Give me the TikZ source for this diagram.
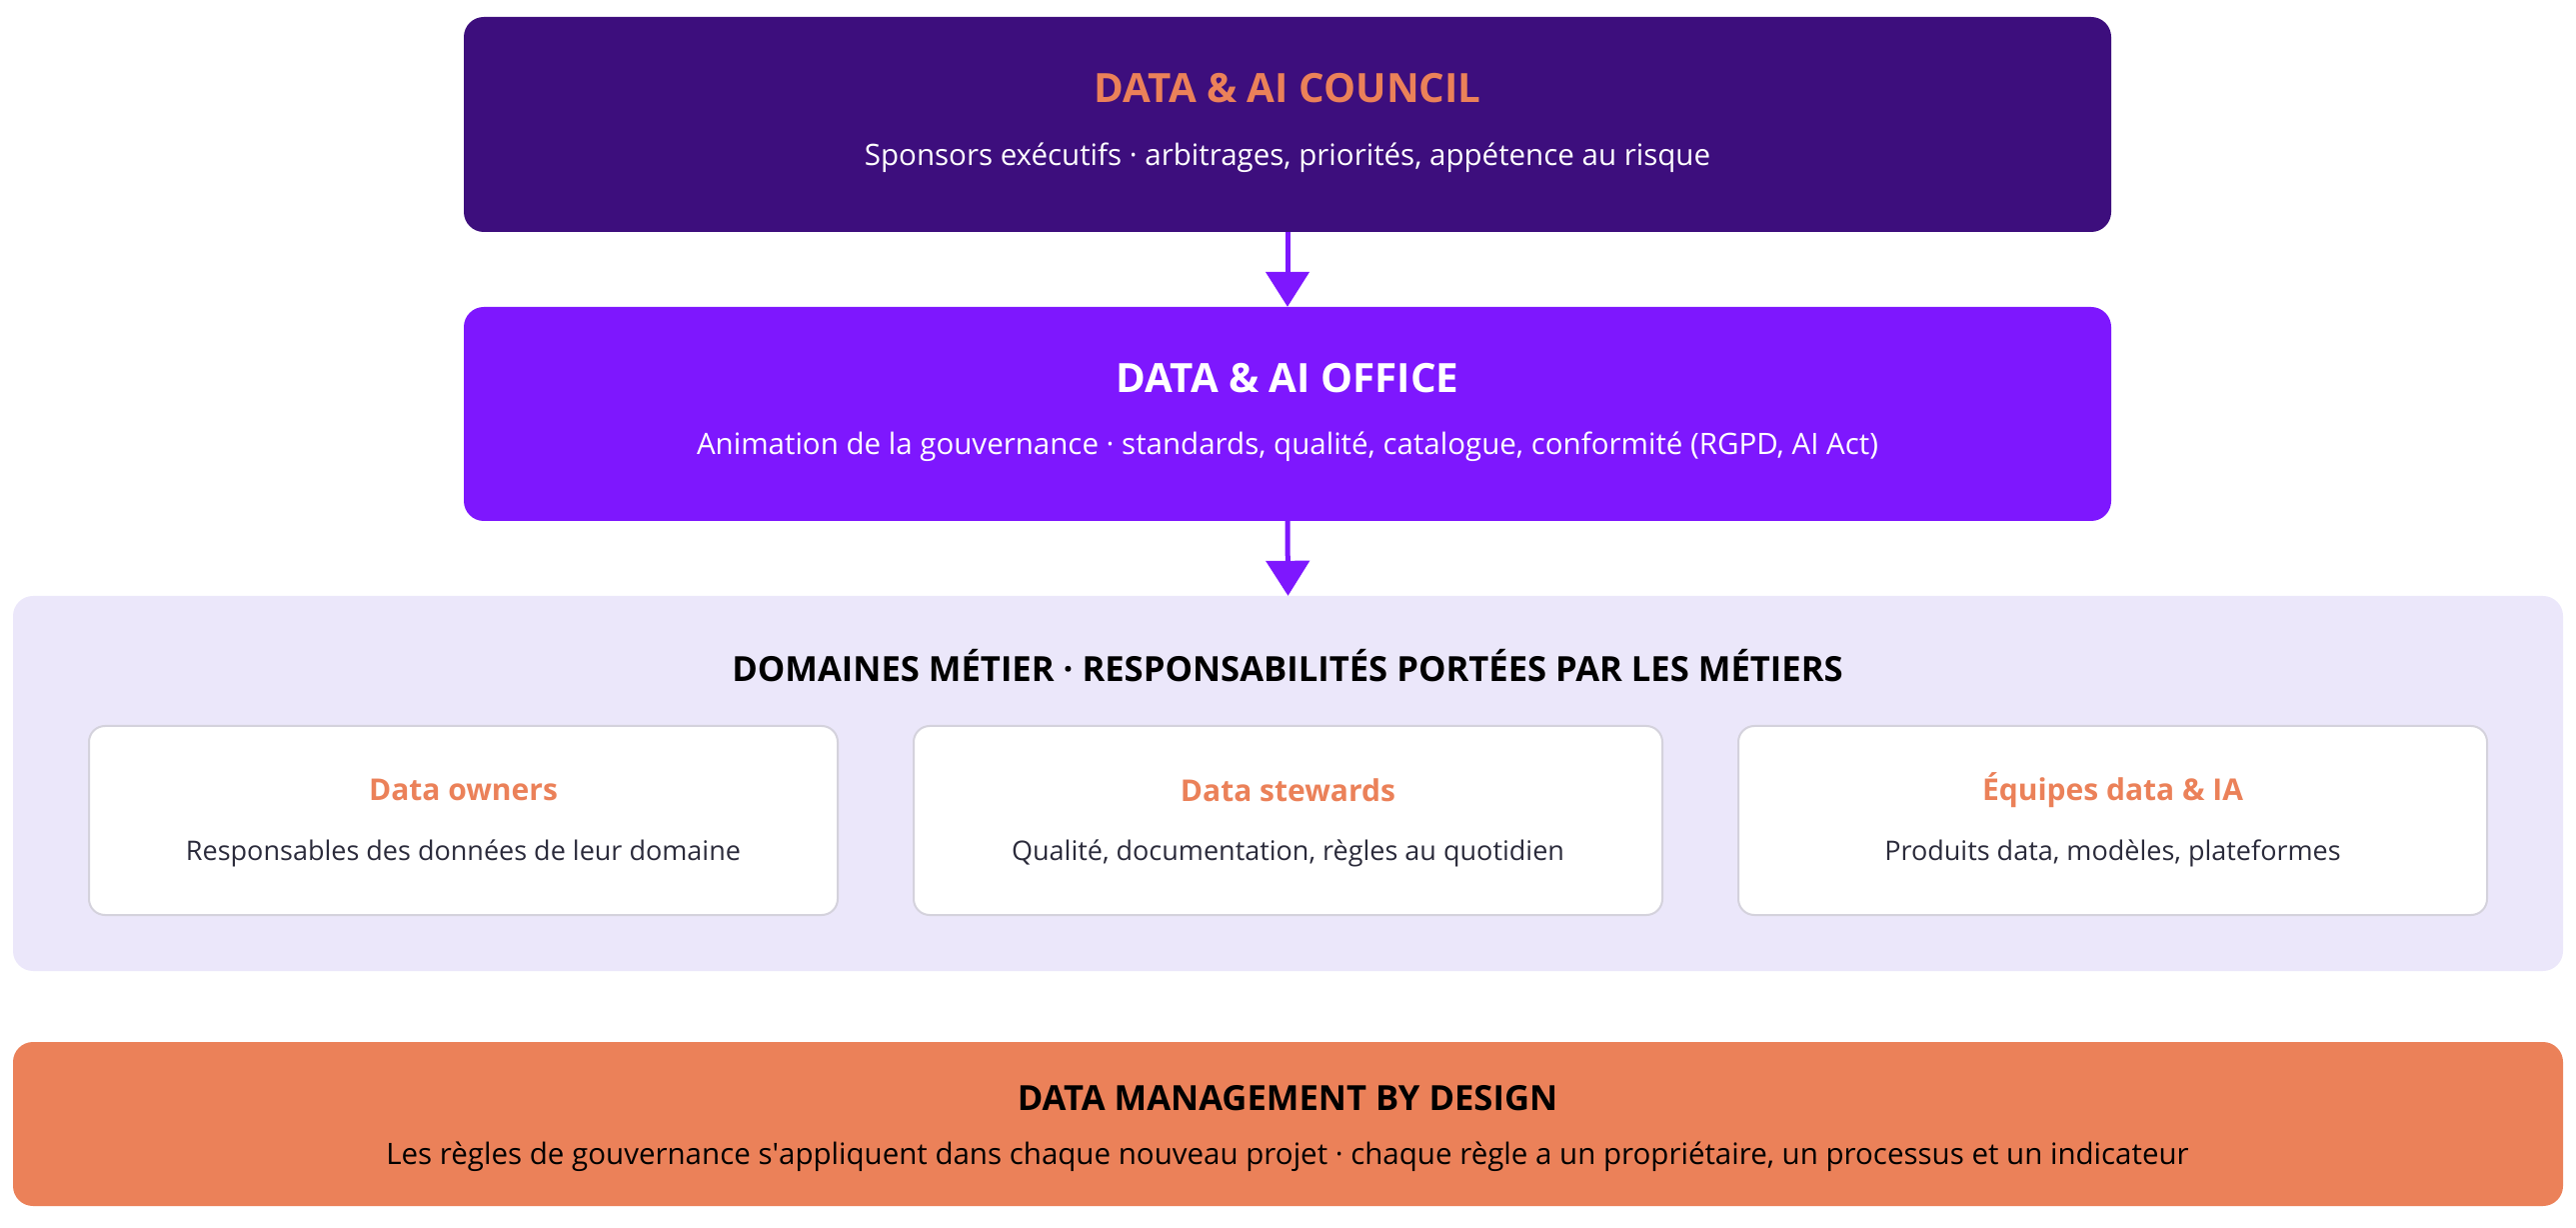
\documentclass[tikz,border=0pt]{standalone}
\usepackage{fontspec}
\setmainfont{Open Sans}
\usepackage{tikz}
\usetikzlibrary{arrows.meta,positioning}
\definecolor{councilviolet}{HTML}{3D0E7D}
\definecolor{officeviolet}{HTML}{7E17FE}
\definecolor{accentorange}{HTML}{EB8159}
\definecolor{domainlavender}{HTML}{EBE7FA}
\definecolor{cardgray}{HTML}{D4D2DC}
\definecolor{cardink}{HTML}{2B2B3B}
\newcommand{\flowarrow}{-{Triangle[length=35pt,width=43pt]}}

\begin{document}
\begin{tikzpicture}[x=1pt,y=1pt,
    band/.style={rectangle,rounded corners=20pt,inner sep=0pt},
    card/.style={rectangle,rounded corners=16pt,inner sep=0pt,fill=white,draw=cardgray,line width=2pt,
        minimum width=749pt,minimum height=189pt},
    bigtitle/.style={font=\fontsize{40.3}{48}\selectfont\bfseries},
    midtitle/.style={font=\fontsize{34.6}{42}\selectfont\bfseries,text=black},
    bigsub/.style={font=\fontsize{29.5}{35}\selectfont},
    cardtitle/.style={font=\fontsize{30}{36}\selectfont\bfseries,text=accentorange},
    cardsub/.style={font=\fontsize{27}{33}\selectfont,text=cardink}]
\useasboundingbox (0,0) rectangle (2577,1227);
\node[band,fill=councilviolet,minimum width=1648pt,minimum height=215pt] (council) at (1288,1102.5) {};
\node[band,fill=officeviolet,minimum width=1648pt,minimum height=214pt] (office) at (1288,813) {};
\node[band,fill=domainlavender,minimum width=2551pt,minimum height=375pt] (domains) at (1288.5,443.5) {};
\node[band,fill=accentorange,minimum width=2551pt,minimum height=164pt] (bydesign) at (1288.5,103) {};

\node[bigtitle,text=accentorange] (councilname) at (1288,1139) {DATA \& AI COUNCIL};
\node[bigsub,text=white] (councilrole) at (1288,1069) {Sponsors exécutifs · arbitrages, priorités, appétence au risque};
\node[bigtitle,text=white] (officename) at (1288,849) {DATA \& AI OFFICE};
\node[bigsub,text=white] (officerole) at (1288,780) {Animation de la gouvernance · standards, qualité, catalogue, conformité (RGPD, AI Act)};
\node[midtitle] (domainsname) at (1288,561) {DOMAINES MÉTIER · RESPONSABILITÉS PORTÉES PAR LES MÉTIERS};

\node[card] (owners) at (463.5,406.5) {};
\node[card] (stewards) at (1288.5,406.5) {};
\node[card] (teams) at (2113.5,406.5) {};
\node[cardtitle] (ownersname) at (463.5,437) {Data owners};
\node[cardsub] (ownersrole) at (463.5,374) {Responsables des données de leur domaine};
\node[cardtitle] (stewardsname) at (1288.5,437) {Data stewards};
\node[cardsub] (stewardsrole) at (1288.5,374) {Qualité, documentation, règles au quotidien};
\node[cardtitle] (teamsname) at (2113.5,437) {Équipes data \& IA};
\node[cardsub] (teamsrole) at (2113.5,374) {Produits data, modèles, plateformes};

\node[midtitle] (bydesignname) at (1288,129) {DATA MANAGEMENT BY DESIGN};
\node[bigsub,text=black] (bydesignrole) at (1288,70) {Les règles de gouvernance s\textquotesingle appliquent dans chaque nouveau projet · chaque règle a un propriétaire, un processus et un indicateur};

\draw[\flowarrow,line width=5pt,officeviolet] (council.south) -- (office.north);
\draw[\flowarrow,line width=5pt,officeviolet] (office.south) -- (domains.north);
\end{tikzpicture}
\end{document}
